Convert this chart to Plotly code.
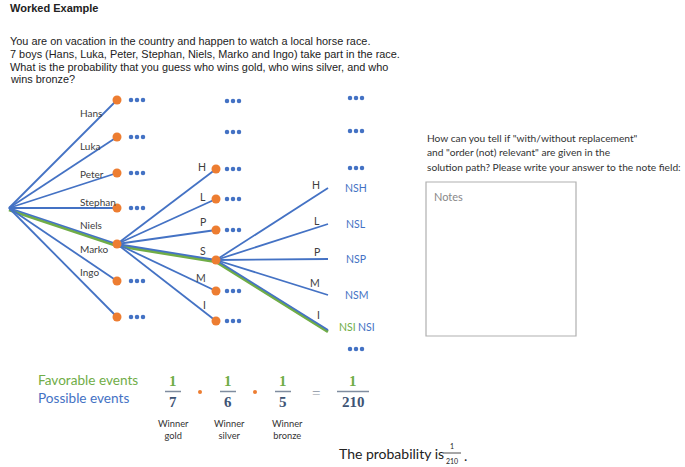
import plotly.graph_objects as go

# Data
runners = ["Hans", "Luka", "Peter", "Stephan", "Niels", "Marko", "Ingo"]
initials = ["H", "L", "P", "S", "M", "I"]          # remaining after Niels
third_initials = ["H", "L", "P", "M", "I"]         # remaining after Niels, Stephan
outcomes = ["NSH", "NSL", "NSP", "NSM", "NSI"]
numerators = [1, 1, 1]
denominators = [7, 6, 5]
result_num = 1
result_den = 210
winner_labels = ["Winner<br>gold", "Winner<br>silver", "Winner<br>bronze"]

# layout of the tree (pixel space)
root = (9, 208)
x1, x2, x3 = 117, 216, 328
level1_y = [100, 137, 173, 208, 244, 281, 317]
level2_y = [169, 199, 230, 260, 291, 321]
level3_y = [188, 224, 259, 295, 330]
label1_y = [113, 146, 174, 202, 225, 249, 272]
label2_y = [167, 197, 222, 251, 278, 305]
label3_y = [185, 221, 252, 283, 315]
chosen = (4, 3, 4)   # Niels -> Stephan -> Ingo

BLUE = "#4472C4"
ORANGE = "#ED7D31"
GREEN = "#70AD47"
NAVY = "#3E5475"
CAL = "Lato"
ARIAL = "Liberation Sans"

fig = go.Figure()

def seg_xy(x0, y0, x1_, ys):
    xs, yy = [], []
    for y in ys:
        xs += [x0, x1_, None]
        yy += [y0, y, None]
    return xs, yy

# green highlighted path (drawn below blue)
p1 = level1_y[chosen[0]]
p2 = level2_y[chosen[1]]
p3 = level3_y[chosen[2]]
fig.add_trace(go.Scatter(x=[root[0], x1, x2, x3], y=[root[1] + 1.8, p1 + 1.8, p2 + 1.8, p3 + 1.8],
                         mode="lines", line=dict(color=GREEN, width=3), hoverinfo="skip"))

# blue branches
for (x0, y0, xe, ys) in [(root[0], root[1], x1, level1_y), (x1, p1, x2, level2_y), (x2, p2, x3, level3_y)]:
    xs, yy = seg_xy(x0, y0, xe, ys)
    fig.add_trace(go.Scatter(x=xs, y=yy, mode="lines", line=dict(color=BLUE, width=1.8), hoverinfo="skip"))

# orange nodes
fig.add_trace(go.Scatter(x=[x1] * len(level1_y) + [x2] * len(level2_y), y=level1_y + level2_y,
                         mode="markers", marker=dict(color=ORANGE, size=9), hoverinfo="skip"))

# "..." dot groups
groups = [(137, y) for i, y in enumerate(level1_y) if i != chosen[0]]
groups += [(233, y) for i, y in enumerate(level2_y) if i != chosen[1]]
groups += [(233, 101), (233, 132), (356, 98), (356, 131), (356, 168), (356, 349)]
dx, dy = [], []
for cx, cy in groups:
    for off in (-6, 0, 6):
        dx.append(cx + off)
        dy.append(cy)
fig.add_trace(go.Scatter(x=dx, y=dy, mode="markers", marker=dict(color=BLUE, size=4.5), hoverinfo="skip"))

ann = []
def txt(x, y, s, size=10, color="#333", font=CAL, xa="left", ya="middle", align="left"):
    ann.append(dict(x=x, y=y, text=s, xref="x", yref="y", showarrow=False, xanchor=xa, yanchor=ya,
                    align=align, font=dict(size=size, color=color, family=font)))

for name, y in zip(runners, label1_y):
    txt(78, y, name, 10, "#404040")
for s, y in zip(initials, label2_y):
    txt(208, y, s, 10.5, "#404040", xa="right")
for s, y in zip(third_initials, label3_y):
    txt(322, y, s, 10.5, "#404040", xa="right")
for s, y in zip(outcomes[:-1], level3_y[:-1]):
    txt(356, y, s, 10.5, BLUE, xa="center")
txt(347, level3_y[-1] - 3, outcomes[-1], 10.5, GREEN, xa="center")
txt(366, level3_y[-1] - 3, outcomes[-1], 10.5, BLUE, xa="center")

# question text
txt(8, 8, "<b>Worked Example</b>", 11, "#222", ARIAL)
body = ["You are on vacation in the country and happen to watch a local horse race.",
        "7 boys (Hans, Luka, Peter, Stephan, Niels, Marko and Ingo) take part in the race.",
        "What is the probability that you guess who wins gold, who wins silver, and who",
        "wins bronze?"]
for i, line in enumerate(body):
    txt(8, 41 + i * 12.8, line, 10.9, "#222", ARIAL)

side = ['How can you tell if "with/without replacement"',
        'and "order (not) relevant" are given in the',
        'solution path? Please write your answer to the note field:']
for i, line in enumerate(side):
    txt(425, 138 + i * 14.3, line, 10.2, "#333")
txt(432, 196, "Notes", 11, "#888")

# formula
txt(36, 380, "Favorable events", 13.6, GREEN)
txt(36, 398, "Possible events", 13.6, BLUE)
frac_x = [173, 228, 283]
SERIF = "Liberation Serif"
shapes = []
for xc, n, d in zip(frac_x, numerators, denominators):
    txt(xc, 381, f"<b>{n}</b>", 15, GREEN, SERIF, xa="center")
    txt(xc, 402, f"<b>{d}</b>", 15, NAVY, SERIF, xa="center")
    shapes.append(dict(type="line", xref="x", yref="y", x0=xc - 8, x1=xc + 8, y0=391.5, y1=391.5,
                       line=dict(color="#7F8C9F", width=1.5)))
fig.add_trace(go.Scatter(x=[200, 255], y=[392, 392], mode="markers",
                         marker=dict(color=ORANGE, size=4), hoverinfo="skip"))
txt(316, 393, "=", 15, "#8A94A3", SERIF, xa="center")
txt(353, 381, f"<b>{result_num}</b>", 15, GREEN, SERIF, xa="center")
txt(353, 402, f"<b>{result_den}</b>", 15, NAVY, SERIF, xa="center")
shapes.append(dict(type="line", xref="x", yref="y", x0=337, x1=369, y0=391.5, y1=391.5,
                   line=dict(color="#7F8C9F", width=1.5)))
for xc, s in zip([173, 229, 287], winner_labels):
    txt(xc, 429, s, 9.3, "#333", xa="center", align="center")

txt(337, 453, "The probability is", 14, "#222")
txt(452, 446, f"{result_num}", 7, "#222", xa="center")
txt(452, 461, f"{result_den}", 7, "#222", xa="center")
shapes.append(dict(type="line", xref="x", yref="y", x0=443, x1=461, y0=453, y1=453,
                   line=dict(color="#222", width=0.8)))
txt(462, 455, ".", 14, "#222")

fig.update_layout(
    width=685, height=467, margin=dict(l=0, r=0, t=0, b=0),
    paper_bgcolor="white", plot_bgcolor="white", showlegend=False,
    xaxis=dict(range=[0, 685], visible=False, fixedrange=True),
    yaxis=dict(range=[467, 0], visible=False, fixedrange=True),
    annotations=ann,
    shapes=shapes + [dict(type="rect", xref="x", yref="y", x0=426, x1=576, y0=182, y1=336,
                          line=dict(color="#B0B0B0", width=1.2))],
)

fig.write_html("out.html", config={"displayModeBar": False},
               post_script="document.body.style.margin='0';document.body.style.overflow='hidden';")
